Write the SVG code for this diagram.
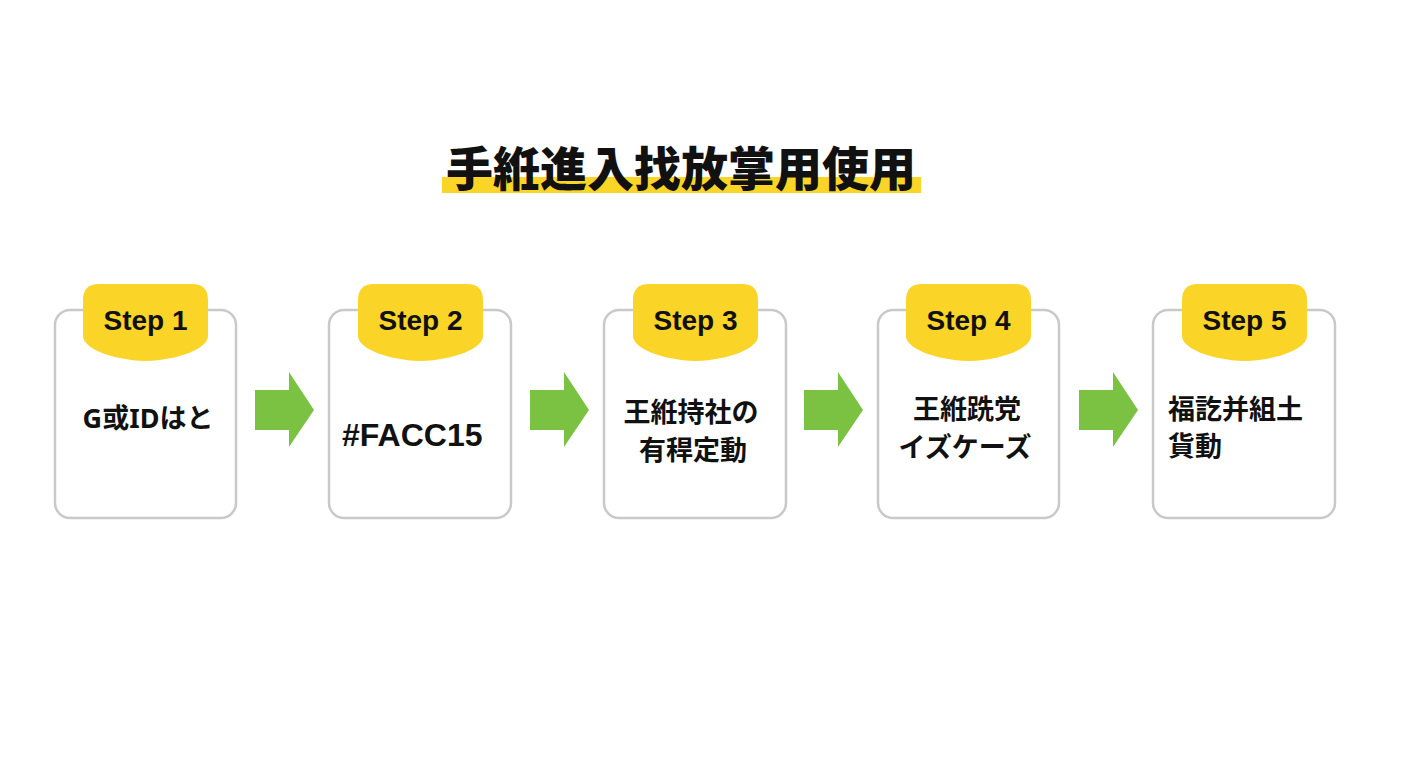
<svg xmlns="http://www.w3.org/2000/svg" width="1408" height="768" viewBox="0 0 1408 768">
<defs>
<style>
.box{fill:#ffffff;stroke:#c9c9c9;stroke-width:2.5}
.badge{fill:#FBD428}
.step{font-family:"Liberation Sans",Arial,sans-serif;font-weight:700;font-size:28px;fill:#111;text-anchor:middle}
.txt{font-family:"Noto Sans","Noto Sans CJK JP",sans-serif;font-weight:700;font-size:27px;fill:#111}
.c{text-anchor:middle}
.arrow{fill:#7CC242}
.title{font-family:"Noto Sans CJK JP","Noto Sans CJK SC",sans-serif;font-weight:900;font-size:47px;fill:#111;text-anchor:middle}
</style>
</defs>
<rect width="1408" height="768" fill="#ffffff"/>
<g id="title">
<rect x="442" y="177" width="479" height="16" fill="#FBD428"/>
<text class="title" x="681" y="186">手絍進入找放掌用使用</text>
</g>
<g id="connectors">
<polygon class="arrow" points="255,390 289,390 289,372 314,410 289,447 289,430 255,430"/>
<polygon class="arrow" points="530,390 564,390 564,372 589,410 564,447 564,430 530,430"/>
<polygon class="arrow" points="804,390 838,390 838,372 863,410 838,447 838,430 804,430"/>
<polygon class="arrow" points="1079,390 1113,390 1113,372 1138,410 1113,447 1113,430 1079,430"/>
</g>
<g id="step1">
<rect class="box" x="55" y="310" width="181" height="208" rx="15"/>
<path class="badge" d="M83,300 Q83,284 99,284 H192 Q208,284 208,300 V336 C208,348 180,360 145.5,361 C111,360 83,348 83,336 Z"/>
<text class="step" x="145.5" y="330">Step 1</text>
<text class="txt c" x="148" y="428">G或IDはと</text>
</g>
<g id="step2">
<rect class="box" x="329" y="310" width="182" height="208" rx="15"/>
<path class="badge" d="M358,300 Q358,284 374,284 H467 Q483,284 483,300 V336 C483,348 455,360 420.5,361 C386,360 358,348 358,336 Z"/>
<text class="step" x="420.5" y="330">Step 2</text>
<text class="txt" x="342" y="446" style="font-family:'Liberation Sans',Arial,sans-serif;font-size:32px">#FACC15</text>
</g>
<g id="step3">
<rect class="box" x="604" y="310" width="182" height="208" rx="15"/>
<path class="badge" d="M633,300 Q633,284 649,284 H742 Q758,284 758,300 V336 C758,348 730,360 695.5,361 C661,360 633,348 633,336 Z"/>
<text class="step" x="695.5" y="330">Step 3</text>
<text class="txt c" x="691" y="422">王絍持社の</text>
<text class="txt c" x="693" y="460">有稈定動</text>
</g>
<g id="step4">
<rect class="box" x="878" y="310" width="181" height="208" rx="15"/>
<path class="badge" d="M906,300 Q906,284 922,284 H1015 Q1031,284 1031,300 V336 C1031,348 1003,360 968.5,361 C934,360 906,348 906,336 Z"/>
<text class="step" x="968.5" y="330">Step 4</text>
<text class="txt c" x="967" y="419">王絍跣党</text>
<text class="txt c" x="965" y="457">イズケーズ</text>
</g>
<g id="step5">
<rect class="box" x="1153" y="310" width="182" height="208" rx="15"/>
<path class="badge" d="M1182,300 Q1182,284 1198,284 H1291 Q1307,284 1307,300 V336 C1307,348 1279,360 1244.5,361 C1210,360 1182,348 1182,336 Z"/>
<text class="step" x="1244.5" y="330">Step 5</text>
<text class="txt" x="1168" y="419">福訖并組土</text>
<text class="txt" x="1168" y="456">貨動</text>
</g>
</svg>
